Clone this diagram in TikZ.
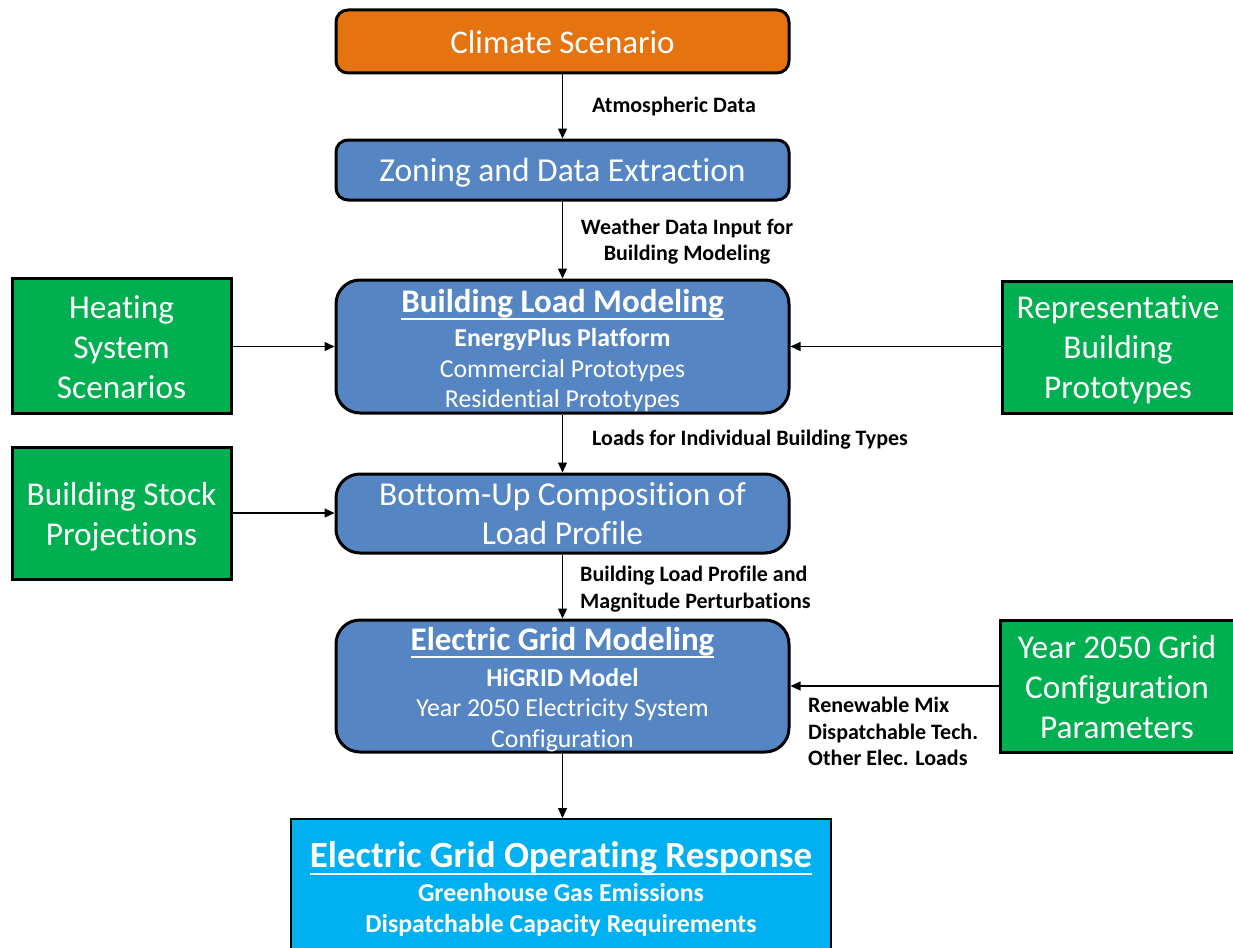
\documentclass[tikz,border=0pt]{standalone}
\usepackage{fontspec}
\setmainfont{Carlito}[Ligatures={NoCommon,NoContextual}]
\usetikzlibrary{arrows.meta}
\definecolor{corange}{HTML}{E5730F}
\definecolor{cblue}{HTML}{5586C3}
\definecolor{cgreen}{HTML}{00B050}
\definecolor{ccyan}{HTML}{00B0F0}
\newcommand{\fs}[2]{\fontsize{#1}{#2}\selectfont}
\newcommand{\strutH}[1]{\rule{0pt}{#1pt}}
\newcommand{\myul}[1]{\setbox0\hbox{#1}\rlap{\rule[-7.5pt]{\wd0}{2pt}}\box0}
\begin{document}
\begin{tikzpicture}[x=1pt,y=-1pt,
  flowbox/.style={draw=black, line width=3pt, rounded corners=12pt, text=white, align=center, inner sep=0pt, minimum width=453pt},
  bigbox/.style={flowbox, rounded corners=24pt},
  greenbox/.style={draw=black, line width=3pt, fill=cgreen, text=white, align=center, inner sep=0pt, font=\fs{33.3}{40}},
  lbl/.style={font=\bfseries\fs{22}{26.5}, inner sep=0pt, align=left},
  arr/.style={line width=1.2pt, -{Triangle[length=10pt,width=9pt]}},
]
\useasboundingbox (0,0) rectangle (1233,947);
% main column
\node[flowbox, fill=corange, minimum height=63pt, font=\fs{33}{35}] (clim) at (562.5,41.5) {\strutH{25}Climate Scenario};
\node[flowbox, fill=cblue, minimum height=60pt, font=\fs{33.5}{35}] (zone) at (562.5,170) {\strutH{29.5}Zoning and Data Extraction};
\node[bigbox, fill=cblue, minimum height=133pt, font=\fs{25.8}{30.5}] (blm) at (562.5,346.5)
  {\strutH{31}{\bfseries\fs{33}{35}\myul{Building Load Modeling}}\\[4pt]
   {\bfseries EnergyPlus Platform}\\ Commercial Prototypes\\ Residential Prototypes};
\node[bigbox, fill=cblue, minimum height=79pt, font=\fs{33.5}{39}] (bup) at (562.5,513.5)
  {Bottom-Up Composition of\\ Load Profile};
\node[bigbox, fill=cblue, minimum height=132pt, font=\fs{25.8}{30.5}] (egm) at (562.5,686)
  {\strutH{30}{\bfseries\fs{33}{35}\myul{Electric Grid Modeling}}\\[5pt]
   {\bfseries HiGRID Model}\\ Year 2050 Electricity System\\ Configuration};
\node[draw=black, line width=2pt, fill=ccyan, text=white, align=center, inner sep=0pt,
      minimum width=540pt, minimum height=140pt, font=\bfseries\fs{25.8}{31}] (resp) at (561,889)
  {{\fs{37}{38}\myul{Electric Grid Operating Response}}\\[3pt]
   Greenhouse Gas Emissions\\ Dispatchable Capacity Requirements};
% side boxes
\node[greenbox, minimum width=219pt, minimum height=135pt] (heat) at (121.5,345.5) {\strutH{27}Heating\\ System\\ Scenarios};
\node[greenbox, minimum width=219pt, minimum height=132pt] (stock) at (121.5,513) {\strutH{30.5}Building Stock\\ Projections};
\node[greenbox, minimum width=232pt, minimum height=132pt] (rep) at (1118,347) {\strutH{29}Representative\\ Building\\ Prototypes};
\node[greenbox, minimum width=234pt, minimum height=132pt] (year) at (1117,686) {\strutH{26}Year 2050 Grid\\ Configuration\\ Parameters};
% connectors
\draw[arr] (clim.south) -- (zone.north);
\draw[arr] (zone.south) -- (blm.north);
\draw[arr] (blm.south) -- (bup.north);
\draw[arr] (bup.south) -- (egm.north);
\draw[arr, line width=0.8pt] (egm.south) -- (resp.north -| egm.south);
\draw[arr] (heat.east |- blm.west) -- (blm.west);
\draw[arr] (rep.west |- blm.east) -- (blm.east);
\draw[arr] (stock.east) -- (bup.west |- stock.east);
\draw[arr] (year.west) -- (egm.east);
% labels
\node[lbl, anchor=west] (l1) at (592,107) {Atmospheric Data};
\node[lbl, align=center] (l2) at (687,241.5) {Weather Data Input for\\ Building Modeling};
\node[lbl, anchor=west] (l3) at (592,440) {Loads for Individual Building Types};
\node[lbl, anchor=west] (l4) at (580,589) {Building Load Profile and\\ Magnitude Perturbations};
\node[lbl, anchor=west] (l5) at (808,731.5) {Renewable Mix\\ Dispatchable Tech.\\ Other Elec. Loads};
\end{tikzpicture}
\end{document}
